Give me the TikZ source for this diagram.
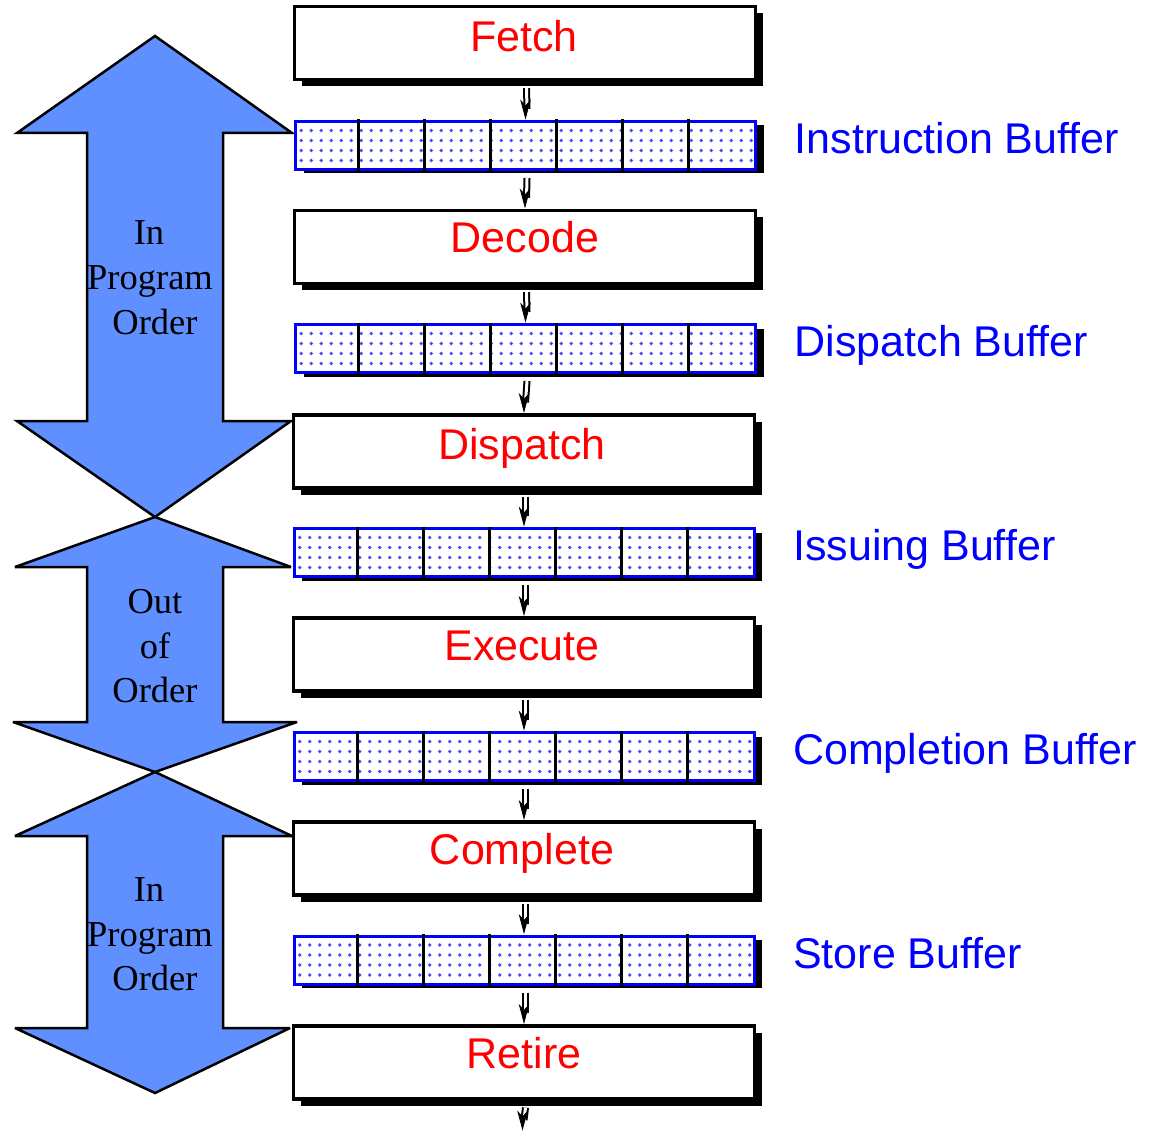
\documentclass[tikz,border=0pt]{standalone}
\usepackage{fontspec}
\setmainfont{Liberation Serif}
\newfontfamily\arialfont{Liberation Sans}
\usetikzlibrary{shadows,calc}
\definecolor{arrowblue}{RGB}{96,143,255}
\newcommand\flowconn[2]{%
  \draw[shaft] ($(#1)+(1.5,7)$) -- ($(#2)+(1.5,-11)$);
  \filldraw[line width=0.8pt, line join=miter] ($(#2)+(-4.5,-19)$) -- ($(#2)+(0,-2)$) -- ($(#2)+(4.5,-19)$) -- ($(#2)+(0,-14)$) -- cycle;
}
\begin{document}
\begin{tikzpicture}[x=1pt,y=-1pt,
  stagebox/.style={draw=black, line width=3.2pt, fill=white, minimum width=461pt, minimum height=73pt, inner sep=0pt,
    drop shadow={shadow xshift=7pt, shadow yshift=-7pt, opacity=1, fill=black}},
  bufbox/.style={draw=blue, line width=3pt, fill=white, minimum width=460pt, minimum height=48pt, inner sep=0pt,
    drop shadow={shadow xshift=8pt, shadow yshift=-4pt, opacity=1, fill=black}},
  stagetext/.style={text=red, font=\arialfont\fontsize{43}{50}\selectfont, anchor=base, inner sep=0pt},
  buftext/.style={text=blue, font=\arialfont\fontsize{43}{50}\selectfont, anchor=base west, inner sep=0pt},
  ordertext/.style={font=\fontsize{36.5}{44}\selectfont, anchor=base, inner sep=0pt},
  bigarrow/.style={draw=black, line width=2.5pt, fill=arrowblue, line join=miter, miter limit=4},
  shaft/.style={draw=black, line width=2pt, double=white, double distance=3pt},
  divider/.style={draw=black, line width=3pt},
  dot/.style={fill=blue!70},
]
\useasboundingbox (0,0) rectangle (1155,1131);

% big arrows
\draw[bigarrow] (155,36) -- (292,133) -- (223,133) -- (223,421) -- (291,421) -- (155,517)
  -- (17,421) -- (87,421) -- (87,133) -- (17,133) -- cycle;
\draw[bigarrow] (155,517) -- (291,567) -- (223,567) -- (223,722) -- (297,722) -- (155,772)
  -- (13,722) -- (87,722) -- (87,567) -- (15,567) -- cycle;
\draw[bigarrow] (155,772) -- (292,836) -- (223,836) -- (223,1028) -- (290,1028) -- (155,1093)
  -- (15,1028) -- (87,1028) -- (87,836) -- (15,836) -- cycle;

\node[ordertext] (a1l1) at (149,245) {In};
\node[ordertext] (a1l2) at (150,290) {Program};
\node[ordertext] (a1l3) at (155,334) {Order};
\node[ordertext] (a2l1) at (155,613) {Out};
\node[ordertext] (a2l2) at (155,658) {of};
\node[ordertext] (a2l3) at (155,702) {Order};
\node[ordertext] (a3l1) at (149,901) {In};
\node[ordertext] (a3l2) at (150,946) {Program};
\node[ordertext] (a3l3) at (155,990) {Order};

% stages
\node[stagebox] (fetch) at (525,43) {};
\node[stagebox] (decode) at (525,247) {};
\node[stagebox] (dispatch) at (524,451.5) {};
\node[stagebox] (execute) at (524,654.5) {};
\node[stagebox] (complete) at (524,858.5) {};
\node[stagebox] (retire) at (524,1062.5) {};

\node[stagetext] (fetcht) at ($(fetch.north)+(-1,46.5)$) {Fetch};
\node[stagetext] (decodet) at ($(decode.north)+(0,44)$) {Decode};
\node[stagetext] (dispatcht) at ($(dispatch.north)+(-2,46)$) {Dispatch};
\node[stagetext] (executet) at ($(execute.north)+(-2,44.5)$) {Execute};
\node[stagetext] (completet) at ($(complete.north)+(-2,44.5)$) {Complete};
\node[stagetext] (retiret) at ($(retire.north)+(0,44.5)$) {Retire};

% buffers
\node[bufbox] (ib) at (525.5,145.5) {};
\node[bufbox] (db) at (525.5,348.5) {};
\node[bufbox] (isb) at (524,552.5) {};
\node[bufbox] (cb) at (524,756.5) {};
\node[bufbox] (sb) at (524,960) {};

\foreach \b in {ib,db,isb,cb,sb}{
  \foreach \i in {0,...,45}{
    \foreach \j in {0,...,3}{
      \fill[dot] ($(\b.north west)+(7.2+10*\i,10.5+10*\j)$) circle (1.9);
    }
  }
  \foreach \k in {1,...,6}{
    \draw[divider] ($(\b.north west)+(66*\k-1.5,-0.5)$) -- ($(\b.south west)+(66*\k-1.5,0.5)$);
  }
}

\node[buftext] (ibt) at ($(ib.east)+(37.5,8)$) {Instruction Buffer};
\node[buftext] (dbt) at ($(db.east)+(37.5,8)$) {Dispatch Buffer};
\node[buftext] (isbt) at ($(isb.east)+(37.5,8)$) {Issuing Buffer};
\node[buftext] (cbt) at ($(cb.east)+(37.5,8)$) {Completion Buffer};
\node[buftext] (sbt) at ($(sb.east)+(37.5,8)$) {Store Buffer};

% connectors
\coordinate (outend) at (522.5,1131);
\flowconn{fetch.south}{ib.north}
\flowconn{ib.south}{decode.north}
\flowconn{decode.south}{db.north}
\flowconn{db.south}{dispatch.north}
\flowconn{dispatch.south}{isb.north}
\flowconn{isb.south}{execute.north}
\flowconn{execute.south}{cb.north}
\flowconn{cb.south}{complete.north}
\flowconn{complete.south}{sb.north}
\flowconn{sb.south}{retire.north}
\flowconn{retire.south}{outend}
\end{tikzpicture}
\end{document}
